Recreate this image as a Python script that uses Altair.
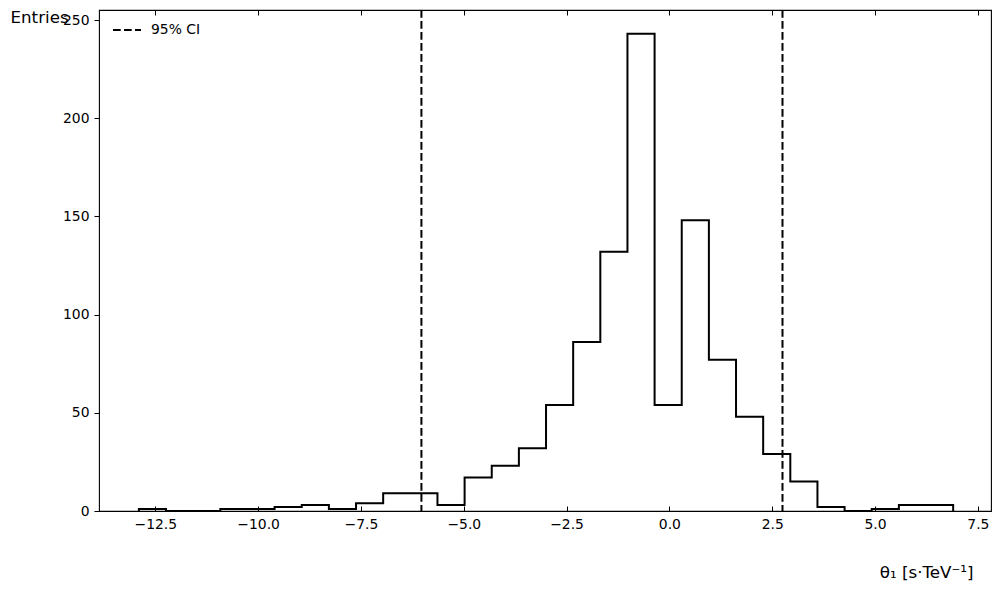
import altair as alt
import pandas as pd

# ---- data ----
bin_edges = [-12.90, -12.24, -11.58, -10.92, -10.26, -9.60, -8.94, -8.28, -7.62, -6.96,
             -6.30, -5.64, -4.98, -4.32, -3.66, -3.00, -2.34, -1.68, -1.02, -0.36,
             0.30, 0.96, 1.62, 2.28, 2.94, 3.60, 4.26, 4.92, 5.58, 6.24, 6.90]
counts = [1, 0, 0, 1, 1, 2, 3, 1, 4, 9, 9, 3, 17, 23, 32, 54, 86, 132, 243, 54,
          148, 77, 48, 29, 15, 2, 0, 1, 3, 3]
ci_bounds = [-6.03, 2.75]
ci_label = "95% CI"
x_ticks = [-12.5, -10.0, -7.5, -5.0, -2.5, 0.0, 2.5, 5.0, 7.5]
y_ticks = [0, 50, 100, 150, 200, 250]
x_domain = [-13.87, 7.82]
y_domain = [0, 255.1]

FONT = "DejaVu Sans"

# step outline (matplotlib histtype='step')
step_x = [bin_edges[0]] + bin_edges[:-1] + [bin_edges[-1]]
step_y = [0] + counts + [0]
hist_df = pd.DataFrame({"x": step_x, "y": step_y, "i": list(range(len(step_x)))})
ci_df = pd.DataFrame({"x": ci_bounds, "label": [ci_label] * len(ci_bounds)})

x_scale = alt.Scale(domain=x_domain, nice=False, zero=False)
y_scale = alt.Scale(domain=y_domain, nice=False, zero=False)

x_label_expr = "replace(format(datum.value, '.1f'), '-', '\u2212')"

hist = alt.Chart(hist_df).mark_line(
    interpolate="step-after", color="black", strokeWidth=2
).encode(
    x=alt.X("x:Q", scale=x_scale,
            axis=alt.Axis(orient="bottom", values=x_ticks, labelExpr=x_label_expr,
                          offset=-5, tickSize=5, tickWidth=1, tickColor="black",
                          labelPadding=6, domain=False, grid=False,
                          title="\u03b8\u2081 [s\u00b7TeV\u207b\u00b9]",
                          titleAnchor="end", titleAlign="right", titleX=874, titleY=66,
                          titleBaseline="middle", titleFontSize=16.7,
                          titleFontWeight="normal", titleFont=FONT, titleColor="black")),
    y=alt.Y("y:Q", scale=y_scale,
            axis=alt.Axis(values=y_ticks, format="d", tickSize=5, tickWidth=1,
                          tickColor="black", labelPadding=5, domain=False, grid=False,
                          title="Entries", titleAngle=0, titleAlign="left",
                          titleBaseline="middle", titleX=-89, titleY=7,
                          titleFontSize=16.7, titleFontWeight="normal",
                          titleFont=FONT, titleColor="black")),
    order="i:Q",
)

ci = alt.Chart(ci_df).mark_rule(color="black", strokeWidth=2).encode(
    x=alt.X("x:Q", scale=x_scale,
            axis=alt.Axis(orient="top", values=x_ticks, labels=False, offset=-5,
                          tickSize=5, tickWidth=1, tickColor="black", domain=False,
                          grid=False, title=None)),
    strokeDash=alt.StrokeDash(
        "label:N",
        scale=alt.Scale(domain=[ci_label], range=[[7.7, 3.3]]),
        legend=alt.Legend(orient="none", legendX=13, legendY=5, title=None,
                          symbolType="stroke", symbolSize=784, symbolStrokeWidth=2,
                          symbolStrokeColor="black", labelFontSize=13.9,
                          labelFont=FONT, labelColor="black", labelOffset=9,
                          padding=0),
    ),
)

chart = alt.layer(hist, ci).properties(
    width=892, height=501,
    padding={"left": 91, "top": 2, "right": 2, "bottom": 70},
    autosize=alt.AutoSizeParams(type="none"),
).configure_view(
    stroke="black", strokeWidth=1.1
).configure_axis(
    labelFont=FONT, labelFontSize=13.9, labelColor="black"
)

chart.save("out.html", embed_options={"renderer": "svg", "actions": False})
